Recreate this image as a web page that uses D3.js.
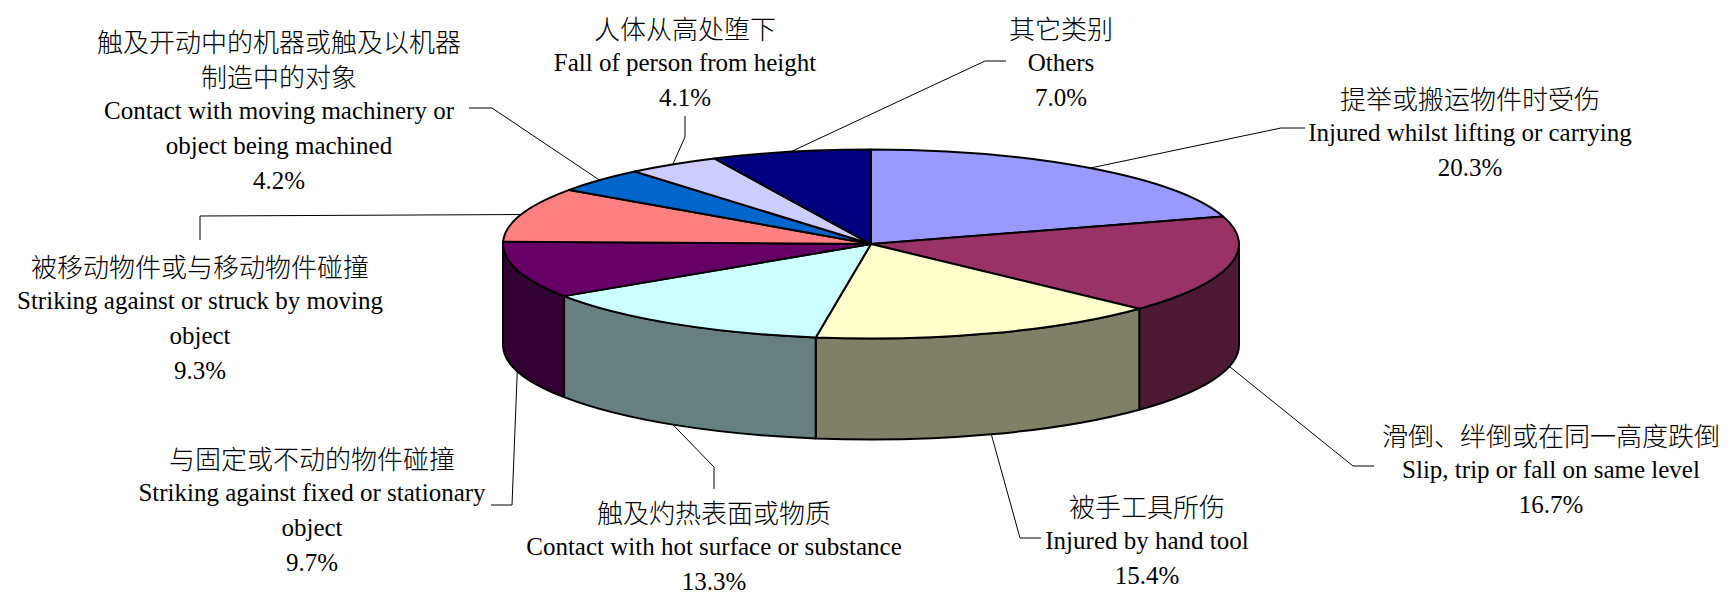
<!DOCTYPE html>
<html lang="zh">
<head>
<meta charset="UTF-8">
<title>工业意外类别</title>
<script src="https://cdn.jsdelivr.net/npm/d3@7"></script>
<style>
  body { margin: 0; background: #fff; }
  .lbl { font-family: "Liberation Serif", "Times New Roman", serif; font-size: 25px; fill: #000; }
  .lbl .zh { font-family: "Noto Sans CJK SC", sans-serif; font-size: 26px; font-weight: 300; }
</style>
</head>
<body>
<svg width="1729" height="595"></svg>
<script>
// data, clockwise from 12 o'clock
const categoriesZh = [
  "提举或搬运物件时受伤",
  "滑倒、绊倒或在同一高度跌倒",
  "被手工具所伤",
  "触及灼热表面或物质",
  "与固定或不动的物件碰撞",
  "被移动物件或与移动物件碰撞",
  "触及开动中的机器或触及以机器\n制造中的对象",
  "人体从高处堕下",
  "其它类别"
];
const categoriesEn = [
  "Injured whilst lifting or carrying",
  "Slip, trip or fall on same level",
  "Injured by hand tool",
  "Contact with hot surface or substance",
  "Striking against fixed or stationary\nobject",
  "Striking against or struck by moving\nobject",
  "Contact with moving machinery or\nobject being machined",
  "Fall of person from height",
  "Others"
];
const shares = [20.3, 16.7, 15.4, 13.3, 9.7, 9.3, 4.2, 4.1, 7.0];
const sliceColors = ["#9999FF", "#993366", "#FFFFCC", "#CCFFFF", "#660066",
                     "#FF8080", "#0066CC", "#CCCCFF", "#000080"];

// label layout: block centre x, first line y, then leader bend + end
const labelPos = [[1470, 97], [1551, 434], [1147, 505], [714, 511], [312, 457],
                  [200, 265], [279, 40], [685, 27], [1061, 27]];
const leaderPts = [
  [[1281, 128], [1305, 128]],
  [[1353, 466], [1374, 466]],
  [[1020, 538], [1041, 538]],
  [[714, 467], [714, 489]],
  [[512, 505], [491, 505]],
  [[200, 216], [200, 240]],
  [[492, 108], [469, 108]],
  [[685, 137], [685, 116]],
  [[985, 61], [1006, 61]]
];

const svg = d3.select("svg");
const cx = 871, cy = 244, rx = 368, ry = 94.5, depth = 101;
const lineGap = 35;

const arcs = d3.pie().sort(null).startAngle(0).endAngle(2 * Math.PI)(shares);

// point on the tilted rim, angle clockwise from top
function pt(a, dy) {
  return [cx + rx * Math.sin(a), cy - ry * Math.cos(a) + (dy || 0)];
}

function topPath(d) {
  const p0 = pt(d.startAngle), p1 = pt(d.endAngle);
  const large = d.endAngle - d.startAngle > Math.PI ? 1 : 0;
  return `M${cx},${cy}L${p0}A${rx},${ry} 0 ${large} 1 ${p1}Z`;
}

function sidePath(a0, a1) {
  const p0 = pt(a0), p1 = pt(a1), q1 = pt(a1, depth), q0 = pt(a0, depth);
  return `M${p0}A${rx},${ry} 0 0 1 ${p1}L${q1}A${rx},${ry} 0 0 0 ${q0}Z`;
}

function half(c) {
  const r = d3.rgb(c);
  return d3.rgb(r.r / 2, r.g / 2, r.b / 2).formatHex();
}

// sides (front half only)
const sides = arcs.map((d, i) => {
  const a0 = Math.max(d.startAngle, Math.PI / 2);
  const a1 = Math.min(d.endAngle, 3 * Math.PI / 2);
  return a1 > a0 ? { a0, a1, i } : null;
}).filter(Boolean);

svg.append("g").selectAll("path")
  .data(sides)
  .join("path")
  .attr("d", s => sidePath(s.a0, s.a1))
  .attr("fill", s => half(sliceColors[s.i]))
  .attr("stroke", "#000")
  .attr("stroke-width", 2)
  .attr("stroke-linejoin", "round");

svg.append("g").selectAll("path")
  .data(arcs)
  .join("path")
  .attr("d", topPath)
  .attr("fill", (d, i) => sliceColors[i])
  .attr("stroke", "#000")
  .attr("stroke-width", 2)
  .attr("stroke-linejoin", "round");

// leader lines
const line = d3.line();
svg.append("g").selectAll("path")
  .data(arcs)
  .join("path")
  .attr("d", (d, i) => {
    const mid = (d.startAngle + d.endAngle) / 2;
    const front = mid > Math.PI / 2 && mid < 3 * Math.PI / 2;
    const start = pt(mid, front ? depth : 0);
    return line([start].concat(leaderPts[i]));
  })
  .attr("fill", "none")
  .attr("stroke", "#000")
  .attr("stroke-width", 1);

// labels
const fmt = d3.format(".1f");
const labels = svg.append("g").attr("class", "lbl");
arcs.forEach((d, i) => {
  const rows = categoriesZh[i].split("\n").map(t => ({ t, zh: true }))
    .concat(categoriesEn[i].split("\n").map(t => ({ t, zh: false })))
    .concat([{ t: fmt(shares[i]) + "%", zh: false }]);
  const txt = labels.append("text").attr("text-anchor", "middle");
  rows.forEach((r, k) => {
    txt.append("tspan")
      .attr("class", r.zh ? "zh" : null)
      .attr("x", labelPos[i][0])
      .attr("y", labelPos[i][1] + k * lineGap)
      .attr("dominant-baseline", "central")
      .text(r.t);
  });
});
</script>
</body>
</html>
